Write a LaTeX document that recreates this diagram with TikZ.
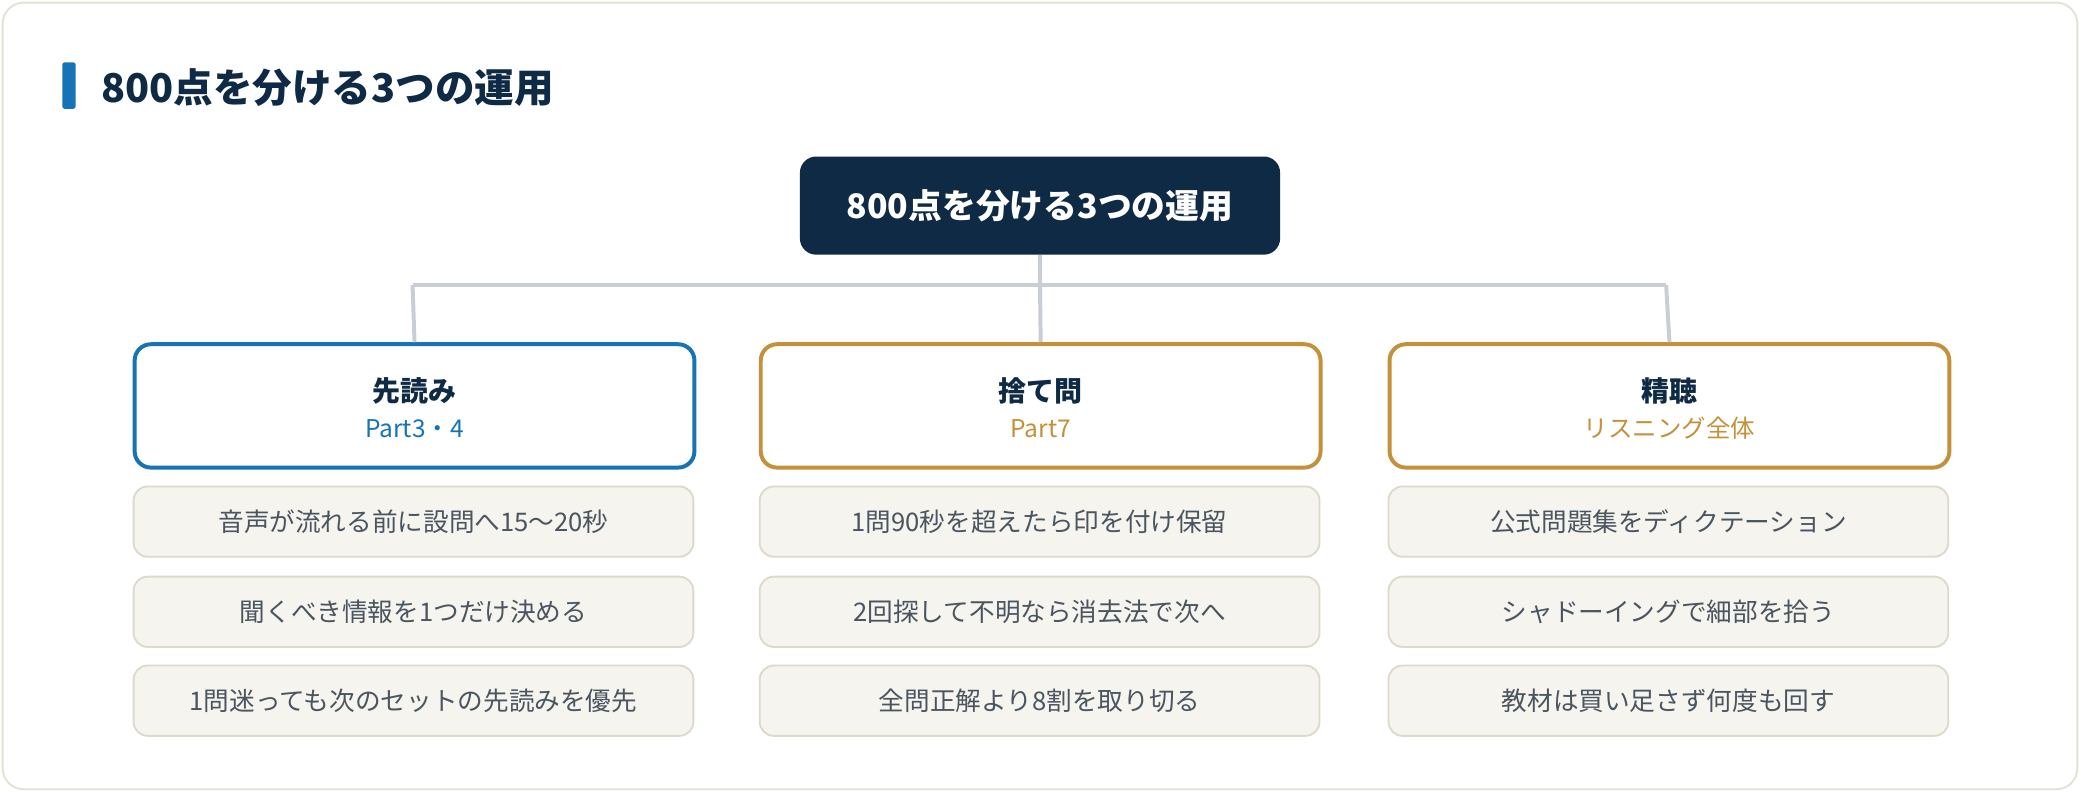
\documentclass[tikz,border=0pt]{standalone}
\usepackage{fontspec}
\setmainfont{Noto Sans CJK JP}
\definecolor{navy}{HTML}{0F2A44}
\definecolor{blueb}{HTML}{1573B6}
\definecolor{gold}{HTML}{C4913A}
\definecolor{conn}{HTML}{C9CDD6}
\definecolor{itemf}{HTML}{F5F4EE}
\definecolor{itemd}{HTML}{DDDACB}
\definecolor{itemt}{HTML}{4A5560}
\definecolor{outer}{HTML}{E3E2D3}
\begin{document}
\begin{tikzpicture}[x=0.02cm,y=-0.02cm,
  head/.style={draw,line width=1.7pt,rounded corners=7pt,fill=white,minimum width=422*0.02cm,minimum height=93*0.02cm,anchor=north west},
  item/.style={draw=itemd,line width=0.8pt,fill=itemf,rounded corners=6pt,minimum width=422*0.02cm,minimum height=53*0.02cm,anchor=north west,text=itemt,font=\fontsize{11}{13}\selectfont},
  ln/.style={draw=conn,line width=1.7pt}]
\useasboundingbox (0,0) rectangle (1568,597);
\draw[outer,line width=0.8pt,fill=white,rounded corners=9pt] (2,2) rectangle (1566,595);
\fill[blueb,rounded corners=1pt] (47,47) rectangle (57,82);
\node[anchor=west,text=navy,font=\fontsize{17}{20}\selectfont\bfseries] (title) at (70,66) {800点を分ける3つの運用};
\node[fill=navy,rounded corners=7pt,minimum width=362*0.02cm,minimum height=74*0.02cm,text=white,font=\fontsize{14.5}{17}\selectfont\bfseries] (root) at (784,155) {800点を分ける3つの運用};
\coordinate (j) at (784,215);
\coordinate (l) at (311,215);
\coordinate (r) at (1256,215);
\node[head,draw=blueb] (h1) at (100,258) {};
\node[head,draw=gold] (h2) at (572,258) {};
\node[head,draw=gold] (h3) at (1046,258) {};
\draw[ln] (root.south) -- (j);
\draw[ln] (l) -- (r);
\draw[ln] (l) -- (h1.north);
\draw[ln] (j) -- (h2.north);
\draw[ln] (r) -- (h3.north);
\foreach \n/\t/\s/\c in {h1/先読み/Part3・4/blueb,h2/捨て問/Part7/gold,h3/精聴/リスニング全体/gold}{
  \node[text=navy,font=\fontsize{12}{14}\selectfont\bfseries] (\n t) at ([yshift=-37*0.02cm]\n.north) {\t};
  \node[text=\c,font=\fontsize{10.5}{12}\selectfont] (\n s) at ([yshift=-65*0.02cm]\n.north) {\s};
}
\node[item] (a1) at (100,366) {音声が流れる前に設問へ15〜20秒};
\node[item] (a2) at (100,434) {聞くべき情報を1つだけ決める};
\node[item] (a3) at (100,501) {1問迷っても次のセットの先読みを優先};
\node[item] (b1) at (572,366) {1問90秒を超えたら印を付け保留};
\node[item] (b2) at (572,434) {2回探して不明なら消去法で次へ};
\node[item] (b3) at (572,501) {全問正解より8割を取り切る};
\node[item] (c1) at (1046,366) {公式問題集をディクテーション};
\node[item] (c2) at (1046,434) {シャドーイングで細部を拾う};
\node[item] (c3) at (1046,501) {教材は買い足さず何度も回す};
\end{tikzpicture}
\end{document}
